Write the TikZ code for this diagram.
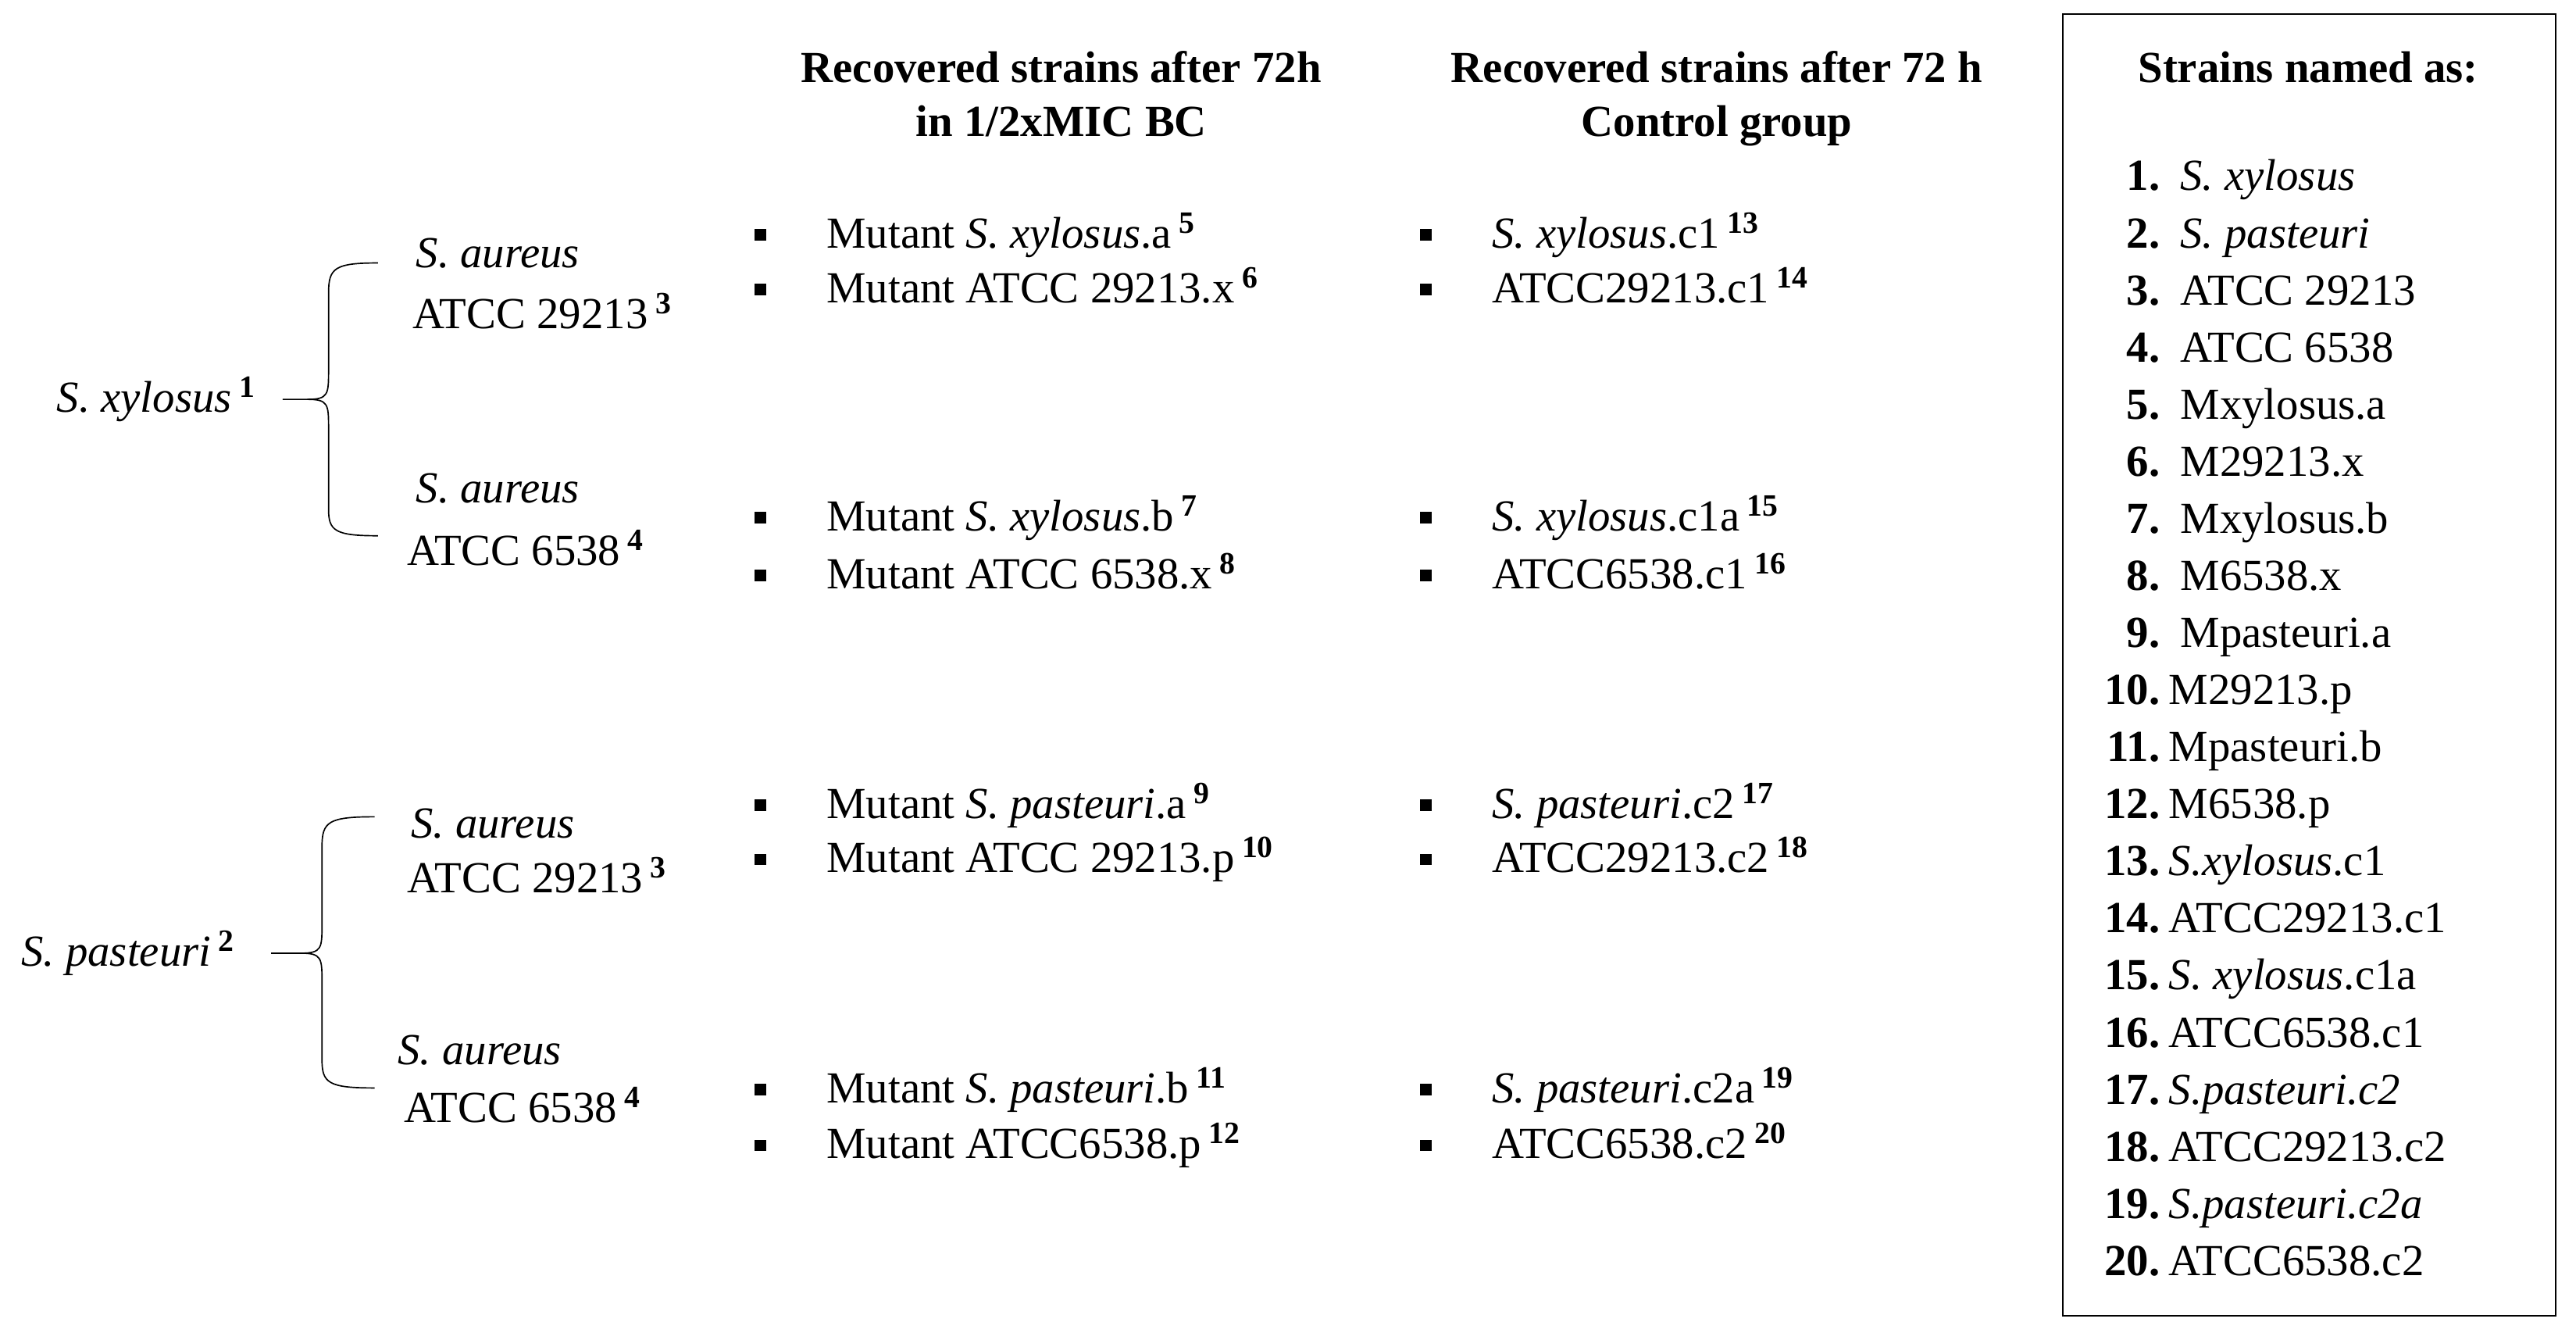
\documentclass[tikz,border=0pt]{standalone}
\usepackage{fontspec}
\setmainfont{Liberation Serif}
\newcommand{\sx}[1]{\,\textsuperscript{\textbf{#1}}}
\begin{document}
\begin{tikzpicture}[x=1pt,y=-1pt,
  every node/.style={inner sep=0pt,font=\fontsize{27}{30}\selectfont},
  lab/.style={anchor=base west},
  cen/.style={anchor=base},
  hdr/.style={anchor=base,font=\fontsize{27}{30}\selectfont\bfseries},
  bul/.style={fill=black,minimum size=7pt,inner sep=0pt},
  brc/.style={draw=black,line width=0.8pt},
  num/.style={anchor=base east,font=\fontsize{27}{30}\selectfont\bfseries},
  box/.style={draw=black,line width=1.2pt}]
\useasboundingbox (0,0) rectangle (1568,815);
% headers
\node[hdr] (h1) at (646,50) {Recovered strains after 72h};
\node[hdr] (h2) at (646,83) {in 1/2xMIC BC};
\node[hdr] (h3) at (1045,50) {Recovered strains after 72 h};
\node[hdr] (h4) at (1045,83) {Control group};
% left tree
\node[cen] (sx) at (95,251) {\textit{S. xylosus}\sx{1}};
\node[cen] (a1) at (303,163) {\textit{S. aureus}};
\node[cen] (b1) at (330,200) {ATCC 29213\sx{3}};
\node[cen] (a2) at (303,306) {\textit{S. aureus}};
\node[cen] (b2) at (320,344) {ATCC 6538\sx{4}};
\node[cen] (sp) at (78,588) {\textit{S. pasteuri}\sx{2}};
\node[cen] (a3) at (300,510) {\textit{S. aureus}};
\node[cen] (b3) at (327,543) {ATCC 29213\sx{3}};
\node[cen] (a4) at (292,648) {\textit{S. aureus}};
\node[cen] (b4) at (318,683) {ATCC 6538\sx{4}};
\coordinate (t1) at (172,243);
\coordinate (t2) at (165,580);
\draw[brc] (t1) -- (187,243) .. controls (200,243) and (200,240) .. (200,225) -- (200,178)
  .. controls (200,163) and (204,160) .. (230,160);
\draw[brc] (187,243) .. controls (200,243) and (200,246) .. (200,261) -- (200,310)
  .. controls (200,323) and (204,326) .. (230,326);
\draw[brc] (t2) -- (183,580) .. controls (196,580) and (196,577) .. (196,562) -- (196,515)
  .. controls (196,500) and (200,497) .. (228,497);
\draw[brc] (183,580) .. controls (196,580) and (196,583) .. (196,598) -- (196,645)
  .. controls (196,659) and (200,662) .. (228,662);
% column 1
\foreach \y/\t [count=\i] in {
 143/{Mutant \textit{S. xylosus}.a\sx{5}},
 176/{Mutant ATCC 29213.x\sx{6}},
 315/{Mutant \textit{S. xylosus}.b\sx{7}},
 350/{Mutant ATCC 6538.x\sx{8}},
 490/{Mutant \textit{S. pasteuri}.a\sx{9}},
 523/{Mutant ATCC 29213.p\sx{10}},
 663/{Mutant \textit{S. pasteuri}.b\sx{11}},
 697/{Mutant ATCC6538.p\sx{12}}}{
 \node[bul] (pa\i) at (463,\y) {};
 \node[lab] (ma\i) at (503,\y+8) {\t};
}
\foreach \y/\t [count=\i] in {
 143/{\textit{S. xylosus}.c1\sx{13}},
 176/{ATCC29213.c1\sx{14}},
 315/{\textit{S. xylosus}.c1a\sx{15}},
 350/{ATCC6538.c1\sx{16}},
 490/{\textit{S. pasteuri}.c2\sx{17}},
 523/{ATCC29213.c2\sx{18}},
 663/{\textit{S. pasteuri}.c2a\sx{19}},
 697/{ATCC6538.c2\sx{20}}}{
 \node[bul] (pb\i) at (868,\y) {};
 \node[lab] (mb\i) at (908,\y+8) {\t};
}
% box
\node[box,minimum width=300pt,minimum height=792pt,anchor=north west] (bx) at (1255,8) {};
\node[hdr] (bh) at (1405,50) {Strains named as:};
\foreach \t [count=\i] in {\textit{S. xylosus},\textit{S. pasteuri},ATCC 29213,ATCC 6538,
 Mxylosus.a,M29213.x,Mxylosus.b,M6538.x,Mpasteuri.a,M29213.p,Mpasteuri.b,M6538.p,
 \textit{S.xylosus}.c1,ATCC29213.c1,\textit{S. xylosus}.c1a,ATCC6538.c1,\textit{S.pasteuri.c2},
 ATCC29213.c2,\textit{S.pasteuri.c2a},ATCC6538.c2}{
 \pgfmathsetmacro{\yy}{108+34.74*(\i-1)+8}
 \node[num] (n\i) at (1315,\yy) {\i.};
 \ifnum\i<10 \node[lab] (l\i) at (1327,\yy) {\t};
 \else \node[lab] (l\i) at (1320,\yy) {\t}; \fi
}
\end{tikzpicture}
\end{document}
